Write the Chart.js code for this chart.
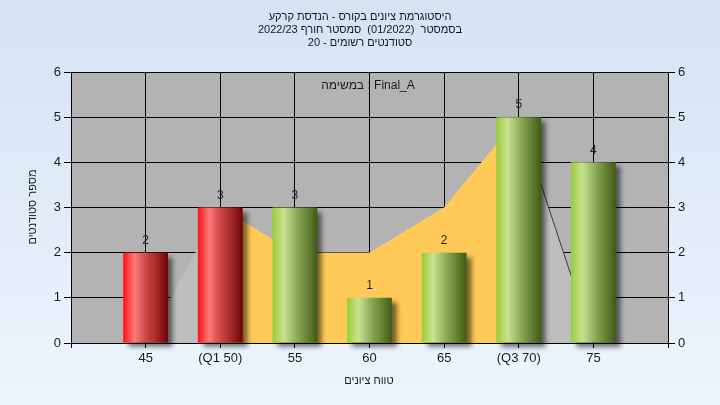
<!DOCTYPE html>
<html><head><meta charset="utf-8">
<script src="https://cdn.jsdelivr.net/npm/chart.js@4.4.0/dist/chart.umd.min.js"></script>
<style>
html,body{margin:0;padding:0;width:720px;height:405px;overflow:hidden;background:linear-gradient(180deg,#d4e2f3 0%,#eef5fd 100%);}
#wrap{width:720px;height:405px;position:relative}
canvas{display:block}
</style></head><body>
<div id="wrap"><canvas id="c" width="720" height="405"></canvas></div>
<script>
// ---- data ----
const categories = ['', '45', '(Q1 50)', '55', '60', '65', '(Q3 70)', '75', ''];
const studentCounts = [null, 2, 3, 3, 1, 2, 5, 4, null];
const belowQ1 = [false, true, true, false, false, false, false, false, false];
const curveValues = [null, 0, 3, 2, 2, 3, 5, 0, null];
const iqrValues = [null, null, 3, 2, 2, 3, 5, null, null];
const yMin = 0, yMax = 6, yStep = 1;
const titleLines = [
  'היסטוגרמת ציונים בקורס - הנדסת קרקע',
  'בסמסטר  (01/2022)  סמסטר חורף 2022/23',
  'סטודנטים רשומים - 20'
];
const xTitle = 'טווח ציונים';
const yTitle = 'מספר סטודנטים';
const noteText = 'במשימה : Final_A';

const FONT = '"Liberation Sans", "DejaVu Sans", Arial, sans-serif';

function makeGrad(c2d, cx, w, i) {
  const g = c2d.createLinearGradient(cx - w / 2, 0, cx + w / 2, 0);
  if (belowQ1[i]) {
    g.addColorStop(0, '#ff1010');
    g.addColorStop(0.25, '#ff7a7a');
    g.addColorStop(0.5, '#d04848');
    g.addColorStop(0.78, '#a02424');
    g.addColorStop(1, '#6a0505');
  } else {
    g.addColorStop(0, '#98cc38');
    g.addColorStop(0.25, '#c9e290');
    g.addColorStop(0.55, '#8aaa58');
    g.addColorStop(0.8, '#627f30');
    g.addColorStop(1, '#3f5a16');
  }
  return g;
}

function barFill(ctx) {
  if (ctx.type !== 'data') return '#8a8';
  return belowQ1[ctx.dataIndex] ? '#d04848' : '#8aaa58';
}

const decor = {
  id: 'decor',
  beforeDraw(chart) {
    const { ctx, chartArea: a } = chart;
    ctx.save();
    ctx.fillStyle = '#b3b3b3';
    ctx.fillRect(a.left, a.top, a.right - a.left, a.bottom - a.top);
    ctx.restore();
  },
  beforeDatasetDraw(chart, args) {
    if (args.index === 0) {
      const c = chart.ctx;
      args.meta.data.forEach((el, i) => {
        if (el && el.options && isFinite(el.x) && isFinite(el.width)) {
          el.options.backgroundColor = makeGrad(c, el.x, el.width, i);
        }
      });
      c.save();
      c.shadowColor = 'rgba(0,0,0,0.55)';
      c.shadowBlur = 5;
      c.shadowOffsetX = 5;
      c.shadowOffsetY = 4;
    }
  },
  afterDatasetDraw(chart, args) {
    if (args.index === 0) chart.ctx.restore();
  },
  afterDraw(chart) {
    const { ctx } = chart;
    ctx.save();
    const meta = chart.getDatasetMeta(0);
    ctx.font = '12px ' + FONT;
    ctx.fillStyle = '#1c1c34';
    ctx.textAlign = 'center';
    ctx.textBaseline = 'middle';
    meta.data.forEach((el, i) => {
      const v = studentCounts[i];
      if (v === null || v === undefined) return;
      ctx.fillText(String(v), el.x, el.y - 12);
    });
    ctx.font = '11px ' + FONT;
    ctx.fillStyle = '#141430';
    titleLines.forEach((s, k) => ctx.fillText(s, 360, 17 + k * 12.8));
    ctx.font = '12px ' + FONT;
    ctx.fillStyle = '#1a1a1a';
    ctx.fillText(noteText, 368, 86);
    ctx.font = '11px ' + FONT;
    ctx.fillText(xTitle, 369, 381);
    ctx.translate(33, 207);
    ctx.rotate(-Math.PI / 2);
    ctx.fillText(yTitle, 0, 0);
    ctx.restore();
  }
};

const tickFont = { family: FONT, size: 13 };

new Chart(document.getElementById('c'), {
  type: 'bar',
  data: {
    labels: categories,
    datasets: [
      {
        type: 'bar',
        data: studentCounts,
        backgroundColor: barFill,
        borderWidth: 0,
        barPercentage: 0.6,
        categoryPercentage: 1,
        clip: false,
        order: 0,
        yAxisID: 'y'
      },
      {
        type: 'line',
        data: iqrValues,
        fill: 'origin',
        backgroundColor: '#ffca57',
        borderWidth: 0,
        borderColor: 'rgba(0,0,0,0)',
        pointRadius: 0,
        tension: 0,
        order: 1,
        yAxisID: 'y'
      },
      {
        type: 'line',
        data: curveValues,
        fill: 'origin',
        backgroundColor: '#bebebe',
        borderWidth: 1,
        borderColor: 'rgba(0,0,0,0)',
        segment: {
          borderColor: c => (c.p0DataIndex === 6 ? '#3a3a3a' : 'rgba(0,0,0,0)')
        },
        pointRadius: 0,
        tension: 0,
        order: 2,
        yAxisID: 'y'
      }
    ]
  },
  options: {
    responsive: false,
    animation: false,
    devicePixelRatio: 1,
    layout: { padding: { left: 0, right: 0, top: 72, bottom: 0 } },
    plugins: { legend: { display: false }, tooltip: { enabled: false }, title: { display: false } },
    scales: {
      x: {
        type: 'category',
        offset: false,
        grid: { offset: false, color: '#000', lineWidth: 1, tickLength: 5, drawTicks: true, tickColor: '#000' },
        border: { display: true, color: '#000' },
        ticks: { font: tickFont, color: '#1a1a1a', maxRotation: 0, autoSkip: false, padding: 3 },
        afterFit: s => { s.height = 62; }
      },
      y: {
        position: 'left',
        min: yMin, max: yMax,
        ticks: { stepSize: yStep, font: tickFont, color: '#1a1a1a', padding: 3 },
        grid: { color: '#000', lineWidth: 1, tickLength: 7, drawTicks: true, tickColor: '#000' },
        border: { display: true, color: '#000' },
        afterFit: s => { s.width = 71; }
      },
      y2: {
        position: 'right',
        min: yMin, max: yMax,
        ticks: { stepSize: yStep, font: tickFont, color: '#1a1a1a', padding: 3 },
        grid: { drawOnChartArea: false, tickLength: 7, drawTicks: true, tickColor: '#000', color: '#000' },
        border: { display: true, color: '#000' },
        afterFit: s => { s.width = 52; }
      }
    }
  },
  plugins: [decor]
});
</script>
</body></html>
